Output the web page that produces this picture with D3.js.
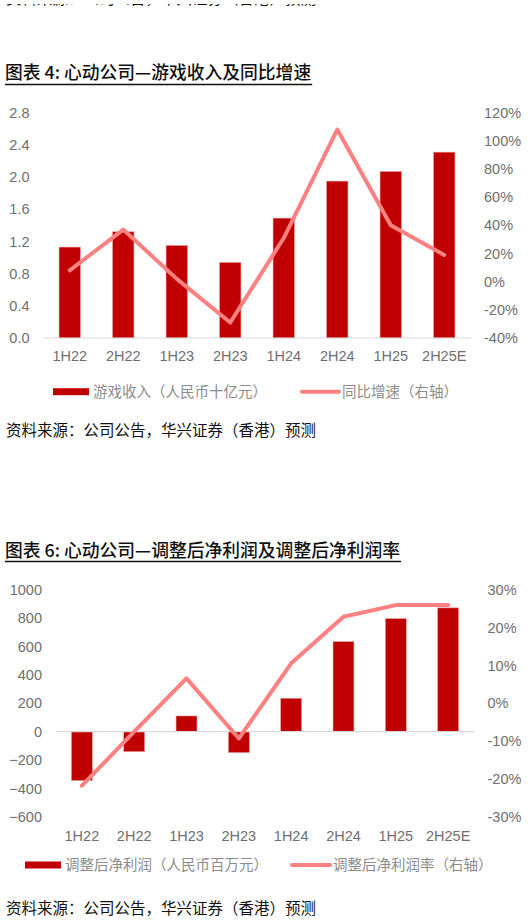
<!DOCTYPE html>
<html>
<head>
<meta charset="utf-8">
<script src="https://cdn.jsdelivr.net/npm/d3@7/dist/d3.min.js"></script>
<style>
  html, body { margin: 0; padding: 0; background: #fff; }
  svg { display: block; }
</style>
</head>
<body>
<svg id="chart" width="532" height="923"></svg>
<script>
// ---------- data ----------
const categories = ["1H22", "2H22", "1H23", "2H23", "1H24", "2H24", "1H25", "2H25E"];

// Chart 4: game revenue (RMB bn) and YoY growth (%)
const gameRevenue = [1.13, 1.32, 1.15, 0.94, 1.49, 1.95, 2.07, 2.31];
const revenueGrowth = [8, 37, 2, -29, 31, 108, 40, 19];
const leftTicks1 = [0, 0.4, 0.8, 1.2, 1.6, 2.0, 2.4, 2.8];
const rightTicks1 = [-40, -20, 0, 20, 40, 60, 80, 100, 120];

// Chart 6: adjusted net profit (RMB mn) and adjusted net margin (%)
const adjNetProfit = [-345, -141, 111, -148, 236, 636, 798, 874];
const adjNetMargin = [-21.8, -7.5, 6.6, -9.3, 10.6, 22.9, 26, 26];
const leftTicks2 = [-600, -400, -200, 0, 200, 400, 600, 800, 1000];
const rightTicks2 = [-30, -20, -10, 0, 10, 20, 30];

const title1 = "图表 4: 心动公司—游戏收入及同比增速";
const title2 = "图表 6: 心动公司—调整后净利润及调整后净利润率";
const legendBar1 = "游戏收入（人民币十亿元）";
const legendLine1 = "同比增速（右轴）";
const legendBar2 = "调整后净利润（人民币百万元）";
const legendLine2 = "调整后净利润率（右轴）";
const sourceText = "资料来源：公司公告，华兴证券（香港）预测";

// ---------- styles ----------
const BAR = "#C00000";
const LINE = "#FF8080";
const AXIS_TXT = "#6f6f6f";
const LEG_TXT = "#8c8c8c";
const LATIN = "'Liberation Sans', Arial, sans-serif";
const CJK = "'Noto Sans CJK SC', 'Liberation Sans', sans-serif";

const svg = d3.select("#chart");

// cut-off source line at very top (only its lowest strokes show)
svg.append("defs").append("clipPath").attr("id", "topclip")
  .append("rect").attr("x", 0).attr("y", 4).attr("width", 532).attr("height", 3);
svg.append("text").attr("x", 6).attr("y", 3.5)
  .attr("clip-path", "url(#topclip)")
  .attr("font-family", CJK).attr("font-size", 15.5).attr("fill", "#111")
  .text(sourceText);

function drawChart(cfg) {
  const g = svg.append("g");

  // title
  const t = g.append("text").attr("x", 5).attr("y", cfg.titleY)
    .attr("font-family", CJK).attr("font-size", 17.8).attr("font-weight", 500)
    .attr("fill", "#111").text(cfg.title);
  const tw = t.node().getComputedTextLength();
  g.append("line").attr("x1", 5).attr("x2", 5 + tw + 1)
    .attr("y1", cfg.underlineY).attr("y2", cfg.underlineY)
    .attr("stroke", "#111").attr("stroke-width", 1.4);

  const x = d3.scaleBand().domain(categories).range([cfg.x0, cfg.x1]).padding(0);
  const yL = d3.scaleLinear().domain(cfg.leftDomain).range([cfg.yBottom, cfg.yTop]);
  const yR = d3.scaleLinear().domain(cfg.rightDomain).range([cfg.yBottom, cfg.yTop]);

  // left axis
  const axL = d3.axisLeft(yL).tickValues(cfg.leftTicks).tickSize(0).tickPadding(0)
    .tickFormat(cfg.leftFormat);
  const gL = g.append("g").attr("transform", `translate(${cfg.leftLabelX},0)`).call(axL);
  gL.select(".domain").remove();
  gL.selectAll("text").attr("font-family", LATIN).attr("font-size", 14.5)
    .attr("fill", AXIS_TXT).attr("x", 0);

  // right axis
  const axR = d3.axisRight(yR).tickValues(cfg.rightTicks).tickSize(0).tickPadding(0)
    .tickFormat(d => d + "%");
  const gR = g.append("g").attr("transform", `translate(${cfg.rightLabelX},0)`).call(axR);
  gR.select(".domain").remove();
  gR.selectAll("text").attr("font-family", LATIN).attr("font-size", 14.5)
    .attr("fill", AXIS_TXT).attr("x", 0);

  // bars
  const bw = x.bandwidth() * 0.4;
  g.append("g").selectAll("rect").data(cfg.bars).join("rect")
    .attr("x", (d, i) => x(categories[i]) + (x.bandwidth() - bw) / 2)
    .attr("width", bw)
    .attr("y", d => Math.min(yL(d), yL(0)))
    .attr("height", d => Math.abs(yL(d) - yL(0)))
    .attr("fill", BAR)
    .attr("stroke", "#e9a0a0").attr("stroke-width", 0.6);

  // zero baseline
  g.append("line").attr("x1", cfg.x0).attr("x2", cfg.x1)
    .attr("y1", yL(0)).attr("y2", yL(0))
    .attr("stroke", "#d9d9d9").attr("stroke-width", 1.2);

  // line
  const line = d3.line()
    .x((d, i) => x(categories[i]) + x.bandwidth() / 2)
    .y(d => yR(d));
  g.append("path").datum(cfg.line).attr("d", line)
    .attr("fill", "none").attr("stroke", LINE).attr("stroke-width", 4)
    .attr("stroke-linejoin", "round").attr("stroke-linecap", "round");

  // x labels
  const axX = d3.axisBottom(x).tickSize(0).tickPadding(0);
  const gX = g.append("g").attr("transform", `translate(0,${cfg.xLabelY})`).call(axX);
  gX.select(".domain").remove();
  gX.selectAll("text").attr("font-family", LATIN).attr("font-size", 14.5)
    .attr("fill", AXIS_TXT).attr("y", 0).attr("dy", "0.35em");

  // legend
  const ly = cfg.legendY;
  g.append("rect").attr("x", cfg.legBarX).attr("y", ly - 3.5)
    .attr("width", cfg.legBarW).attr("height", 7).attr("fill", BAR);
  g.append("text").attr("x", cfg.legBarX + cfg.legBarW + 4).attr("y", ly).attr("dy", "0.36em")
    .attr("font-family", CJK).attr("font-size", 14.5).attr("fill", LEG_TXT).text(cfg.legBar);
  g.append("line").attr("x1", cfg.legLineX).attr("x2", cfg.legLineX + cfg.legLineW)
    .attr("y1", ly).attr("y2", ly).attr("stroke", LINE).attr("stroke-width", 4)
    .attr("stroke-linecap", "round");
  g.append("text").attr("x", cfg.legLineX + cfg.legLineW + 3).attr("y", ly).attr("dy", "0.36em")
    .attr("font-family", CJK).attr("font-size", 14.5).attr("fill", LEG_TXT).text(cfg.legLine);

  // source
  g.append("text").attr("x", 6).attr("y", cfg.sourceY).attr("dy", "0.36em")
    .attr("font-family", CJK).attr("font-size", 15.5).attr("fill", "#111").text(sourceText);
}

drawChart({
  title: title1, titleY: 78.5, underlineY: 84.5,
  x0: 43, x1: 471, yTop: 112.7, yBottom: 338,
  leftDomain: [0, 2.8], rightDomain: [-40, 120],
  leftTicks: leftTicks1, rightTicks: rightTicks1,
  leftFormat: d3.format(".1f"),
  leftLabelX: 29.5, rightLabelX: 484,
  bars: gameRevenue, line: revenueGrowth,
  xLabelY: 355.7,
  legendY: 391.7, legBarX: 53, legBarW: 36, legLineX: 302, legLineW: 37,
  legBar: legendBar1, legLine: legendLine1,
  sourceY: 430.7
});

drawChart({
  title: title2, titleY: 556.5, underlineY: 561.5,
  x0: 55.7, x1: 474.3, yTop: 590, yBottom: 816.7,
  leftDomain: [-600, 1000], rightDomain: [-30, 30],
  leftTicks: leftTicks2, rightTicks: rightTicks2,
  leftFormat: d3.format("d"),
  leftLabelX: 42, rightLabelX: 487.5,
  bars: adjNetProfit, line: adjNetMargin,
  xLabelY: 836,
  legendY: 865, legBarX: 25, legBarW: 36, legLineX: 292, legLineW: 38,
  legBar: legendBar2, legLine: legendLine2,
  sourceY: 908
});
</script>
</body>
</html>
